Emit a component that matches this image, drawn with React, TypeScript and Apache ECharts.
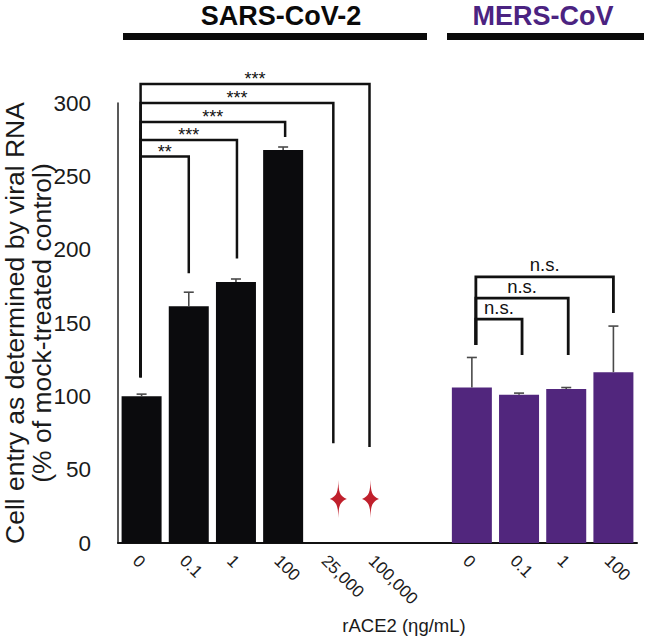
import React, { useEffect, useRef } from "react";
import * as echarts from "echarts";

// ---- data ----
const categories = ["0", "0.1", "1", "100", "25,000", "100,000", "", "0", "0.1", "1", "100"];
const sarsValues = [100, 161.5, 178, 268, null, null];
const sarsErrors = [1.5, 9.5, 2, 2, null, null];
const mersValues = [106, 101, 105, 116.5];
const mersErrors = [20.5, 1.2, 1, 31.4];
const mersStartIndex = 7;
const yTicks = { min: 0, max: 300, interval: 50 };
// no-entry markers (red stars) at 25,000 and 100,000
const starCategoryIndex = [4, 5];
const starValues = [30, 30];
// brackets: [fromCategory, toCategory, topValue, fromBottomValue, toBottomValue]
const sarsBrackets = [
  [0, 5, 313, 113, 65.5],
  [0, 4, 300, 113, 68],
  [0, 3, 287, 113, 276.8],
  [0, 2, 274.8, 113, 194],
  [0, 1, 263.5, 113, 184],
];
const sarsBracketLabels = ["***", "***", "***", "***", "**"];
const mersBrackets = [
  [7, 10, 181.4, 135, 156.8],
  [7, 9, 167, 135, 128.2],
  [7, 8, 152.7, 135, 128.2],
];
const mersBracketLabels = ["n.s.", "n.s.", "n.s."];

// pixel nudges of bracket ends (style)
const sarsNudge = [[-1, -8], [-1, 3], [-1, 2], [-1, 1], [-1, 0]];
const mersNudge = [[4, 0], [4, 2], [4, 3]];
const starNudge = [[8, 0], [-7, 0]];

const FONT = "'Liberation Sans', Arial, Helvetica, sans-serif";
const BLACK_BAR = "#0b0b0d";
const PURPLE = "#51267d";

const STAR_PATH =
  "path://M50 0 C52 30 56 42 100 50 C56 58 52 70 50 100 C48 70 44 58 0 50 C44 42 48 30 50 0 Z";

export default function App() {
  const ref = useRef<HTMLDivElement>(null);

  useEffect(() => {
    if (!ref.current) return;
    const chart = echarts.init(ref.current, undefined, { renderer: "svg" });

    const sarsData = categories.map((_, i) => (i < sarsValues.length ? sarsValues[i] : null));
    const mersData = categories.map((_, i) =>
      i >= mersStartIndex && i - mersStartIndex < mersValues.length ? mersValues[i - mersStartIndex] : null
    );
    const errData: number[][] = [];
    sarsValues.forEach((v, i) => {
      if (v != null && sarsErrors[i] != null) errData.push([i, v, sarsErrors[i] as number]);
    });
    mersValues.forEach((v, i) => errData.push([mersStartIndex + i, v, mersErrors[i]]));

    const starData = starCategoryIndex.map((c, i) => ({
      value: [c, starValues[i]],
      symbolOffset: starNudge[i],
    }));

    const makeBracketSeries = (
      rows: number[][],
      labels: string[],
      nudges: number[][],
      fontSize: number,
      labelDy: number,
      lineWidth: number
    ) => ({
      type: "custom",
      clip: false,
      silent: true,
      z: 5,
      encode: { x: [0, 1], y: [2, 3, 4] },
      data: rows,
      renderItem: (params: any, api: any) => {
        const i = params.dataIndex;
        const f = api.value(0);
        const t = api.value(1);
        const top = api.value(2);
        const fb = api.value(3);
        const tb = api.value(4);
        const x0 = api.coord([f, 0])[0] + nudges[i][0];
        const x1 = api.coord([t, 0])[0] + nudges[i][1];
        const yTop = api.coord([f, top])[1];
        const y0 = api.coord([f, fb])[1];
        const y1 = api.coord([t, tb])[1];
        return {
          type: "group",
          children: [
            {
              type: "polyline",
              shape: { points: [[x0, y0], [x0, yTop], [x1, yTop], [x1, y1]] },
              style: { stroke: "#111", lineWidth, fill: "none" },
            },
            {
              type: "text",
              x: (x0 + x1) / 2,
              y: yTop + labelDy,
              style: {
                text: labels[i],
                align: "center",
                verticalAlign: "bottom",
                fontSize,
                fontFamily: FONT,
                fill: "#111",
              },
            },
          ],
        };
      },
    });

    chart.setOption({
      animation: false,
      backgroundColor: "#ffffff",
      grid: { left: 118, right: 13, top: 103, bottom: 94, outerBoundsMode: "none" },
      xAxis: {
        type: "category",
        data: categories,
        axisLine: { lineStyle: { color: "#111", width: 2 } },
        axisTick: { show: false },
        axisLabel: {
          interval: 0,
          rotate: -45,
          verticalAlign: "top",
          fontSize: 17,
          margin: 9,
          color: "#1a1a1a",
          fontFamily: FONT,
        },
        splitLine: { show: false },
      },
      yAxis: {
        type: "value",
        min: yTicks.min,
        max: yTicks.max,
        interval: yTicks.interval,
        axisLine: { show: true, lineStyle: { color: "#222", width: 1.5 } },
        axisTick: { show: false },
        splitLine: { show: false },
        axisLabel: { fontSize: 22.5, margin: 27, color: "#1a1a1a", fontFamily: FONT },
        name: "Cell entry as determined by viral RNA\n(% of mock-treated control)",
        nameLocation: "middle",
        nameGap: 63,
        nameMoveOverlap: false,
        nameTextStyle: { fontSize: 26.5, lineHeight: 27, color: "#1a1a1a", fontFamily: FONT },
      },
      series: [
        {
          name: "SARS-CoV-2",
          type: "bar",
          data: sarsData,
          barWidth: 40,
          barGap: "-100%",
          itemStyle: { color: BLACK_BAR },
          z: 2,
        },
        {
          name: "MERS-CoV",
          type: "bar",
          data: mersData,
          barWidth: 40,
          barGap: "-100%",
          itemStyle: { color: PURPLE },
          z: 2,
        },
        {
          type: "custom",
          name: "error",
          silent: true,
          z: 3,
          encode: { x: 0, y: [1, 2] },
          data: errData,
          renderItem: (params: any, api: any) => {
            const c = api.value(0);
            const v = api.value(1);
            const e = api.value(2);
            const p0 = api.coord([c, v]);
            const p1 = api.coord([c, v + e]);
            return {
              type: "group",
              children: [
                {
                  type: "line",
                  shape: { x1: p0[0], y1: p0[1], x2: p1[0], y2: p1[1] },
                  style: { stroke: "#4a4a4a", lineWidth: 1.6 },
                },
                {
                  type: "line",
                  shape: { x1: p1[0] - 5, y1: p1[1], x2: p1[0] + 5, y2: p1[1] },
                  style: { stroke: "#4a4a4a", lineWidth: 1.6 },
                },
              ],
            };
          },
        },
        {
          type: "scatter",
          name: "no entry",
          symbol: STAR_PATH,
          symbolSize: [17, 38],
          itemStyle: { color: "#c0202c", opacity: 1 },
          data: starData,
          z: 4,
        },
        makeBracketSeries(sarsBrackets, sarsBracketLabels, sarsNudge, 18, 4, 2.5),
        makeBracketSeries(mersBrackets, mersBracketLabels, mersNudge, 18.5, -2.5, 2.8),
      ],
      graphic: [
        {
          type: "text",
          x: 281,
          y: 16,
          style: {
            text: "SARS-CoV-2",
            align: "center",
            verticalAlign: "middle",
            fontSize: 27,
            fontWeight: "bold",
            fontFamily: FONT,
            fill: "#0a0a0a",
          },
        },
        { type: "rect", x: 123, y: 33, shape: { width: 304, height: 7 }, style: { fill: "#0a0a0a" } },
        {
          type: "text",
          x: 543,
          y: 16,
          style: {
            text: "MERS-CoV",
            align: "center",
            verticalAlign: "middle",
            fontSize: 27,
            fontWeight: "bold",
            fontFamily: FONT,
            fill: "#4b2381",
          },
        },
        { type: "rect", x: 447, y: 33, shape: { width: 197, height: 7 }, style: { fill: "#0a0a0a" } },
        {
          type: "text",
          x: 404,
          y: 625,
          style: {
            text: "rACE2 (ηg/mL)",
            align: "center",
            verticalAlign: "middle",
            fontSize: 18.5,
            fontFamily: FONT,
            fill: "#1a1a1a",
          },
        },
      ],
    });

    return () => {
      chart.dispose();
    };
  }, []);

  return (
    <div
      ref={ref}
      style={{ position: "fixed", left: 0, top: 0, width: 650, height: 637, background: "#fff" }}
    />
  );
}
